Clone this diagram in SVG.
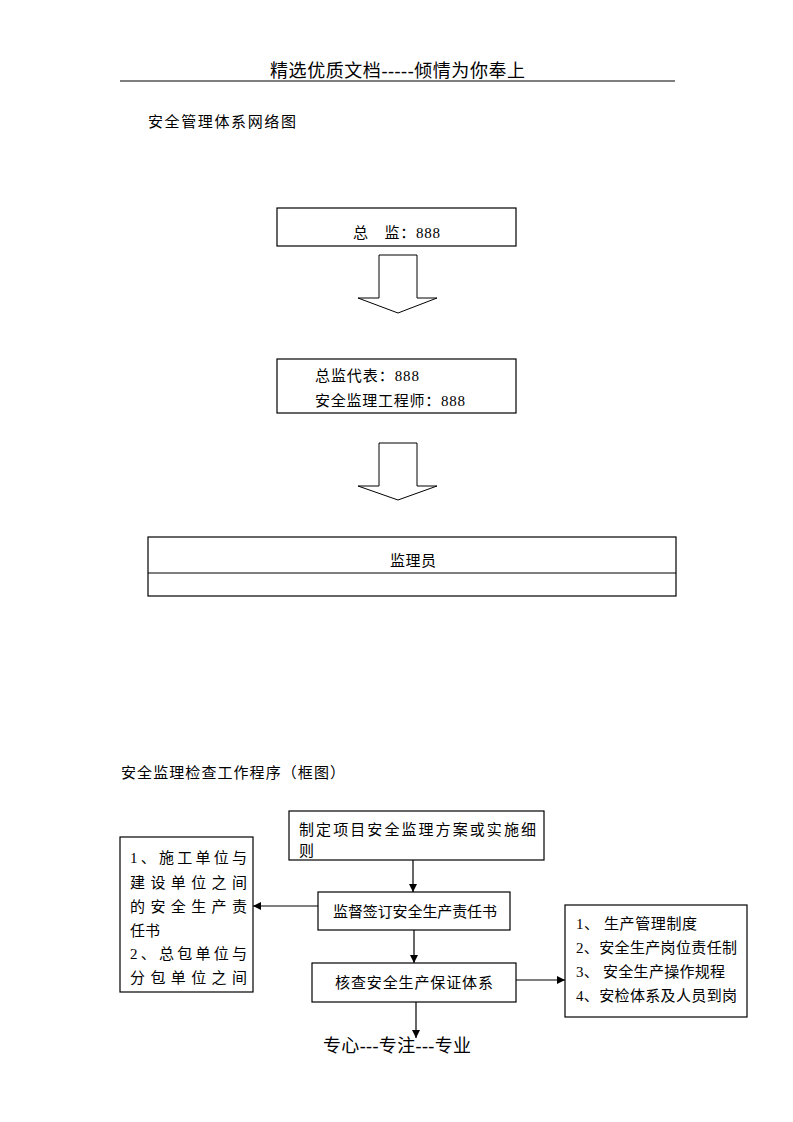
<svg xmlns="http://www.w3.org/2000/svg" width="793" height="1122" viewBox="0 0 793 1122">
<style>
text{font-family:"Liberation Serif","Noto Sans CJK SC",serif;fill:#000;font-size:15px}
.hdr{font-size:18px}
.box{fill:#fff;stroke:#000;stroke-width:1.2}
.ln{stroke:#000;stroke-width:1.2;fill:none}
.big{fill:#fff;stroke:#000;stroke-width:1}
</style>
<defs>
<marker id="ah" markerWidth="8" markerHeight="8" refX="8" refY="4" orient="auto" markerUnits="userSpaceOnUse">
<path d="M0,0 L8,4 L0,8 Z" fill="#000"/>
</marker>
</defs>
<rect width="793" height="1122" fill="#fff"/>
<text class="hdr" x="270" y="77" textLength="255" lengthAdjust="spacing">精选优质文档-----倾情为你奉上</text>
<line x1="120" y1="81" x2="675" y2="81" stroke="#000" stroke-width="1.2"/>
<text x="148" y="127" textLength="148" lengthAdjust="spacing">安全管理体系网络图</text>

<g id="n1"><rect class="box" x="277" y="208" width="239" height="38"/>
<text x="353" y="238" textLength="87" lengthAdjust="spacing">总　监：888</text></g>
<g id="a1"><path class="big" d="M379,255 L417,255 L417,298 L437,298 L398,313 L358,298 L379,298 Z"/></g>
<g id="n2"><rect class="box" x="277" y="359" width="239" height="54"/>
<text x="315" y="381" textLength="104" lengthAdjust="spacing">总监代表：888</text>
<text x="315" y="406" textLength="150" lengthAdjust="spacing">安全监理工程师：888</text></g>
<g id="a2"><path class="big" d="M379,443 L417,443 L417,486 L437,486 L398,500 L358,486 L379,486 Z"/></g>
<g id="n3"><rect class="box" x="148" y="537" width="528" height="59"/>
<line class="ln" x1="148" y1="573" x2="676" y2="573"/>
<text x="390" y="566" textLength="46" lengthAdjust="spacing">监理员</text></g>

<text x="121" y="778" textLength="224" lengthAdjust="spacing">安全监理检查工作程序（框图）</text>

<g id="b1"><rect class="box" x="289" y="811" width="255" height="49"/>
<text x="299" y="835" textLength="237" lengthAdjust="spacing">制定项目安全监理方案或实施细</text>
<text x="299" y="856">则</text></g>
<g id="b2"><rect class="box" x="318" y="892" width="192" height="38"/>
<text x="333" y="917" textLength="164" lengthAdjust="spacing">监督签订安全生产责任书</text></g>
<g id="b3"><rect class="box" x="312" y="963" width="204" height="39"/>
<text x="335" y="988" textLength="158" lengthAdjust="spacing">核查安全生产保证体系</text></g>
<g id="left"><rect class="box" x="120" y="837" width="133" height="155"/>
<text x="130" y="863" textLength="117" lengthAdjust="spacing">1、施工单位与</text>
<text x="130" y="888" textLength="117" lengthAdjust="spacing">建设单位之间</text>
<text x="130" y="912" textLength="117" lengthAdjust="spacing">的安全生产责</text>
<text x="130" y="936">任书</text>
<text x="130" y="959" textLength="117" lengthAdjust="spacing">2、总包单位与</text>
<text x="130" y="983" textLength="117" lengthAdjust="spacing">分包单位之间</text></g>
<g id="right"><rect class="box" x="565" y="905" width="182" height="112"/>
<text x="576" y="929" textLength="121" lengthAdjust="spacing">1、 生产管理制度</text>
<text x="576" y="953" textLength="161" lengthAdjust="spacing">2、安全生产岗位责任制</text>
<text x="576" y="977" textLength="149" lengthAdjust="spacing">3、 安全生产操作规程</text>
<text x="576" y="1001" textLength="161" lengthAdjust="spacing">4、安检体系及人员到岗</text></g>

<g id="connectors">
<line class="ln" x1="413" y1="860" x2="413" y2="892" marker-end="url(#ah)"/>
<line class="ln" x1="318" y1="906" x2="253" y2="906" marker-end="url(#ah)"/>
<line class="ln" x1="414" y1="930" x2="414" y2="963" marker-end="url(#ah)"/>
<line class="ln" x1="516" y1="980" x2="565" y2="980" marker-end="url(#ah)"/>
<line class="ln" x1="416" y1="1002" x2="416" y2="1038" marker-end="url(#ah)"/>
</g>
<text class="hdr" x="323" y="1052" textLength="148" lengthAdjust="spacing">专心---专注---专业</text>
</svg>
